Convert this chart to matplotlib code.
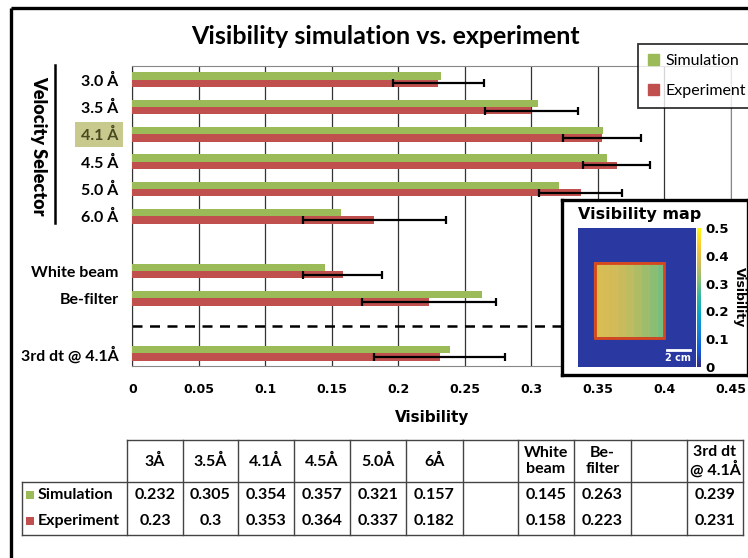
import numpy as np
import matplotlib
matplotlib.use('Agg')
import matplotlib.pyplot as plt
from matplotlib.colors import LinearSegmentedColormap
from matplotlib.patches import Rectangle, Patch

W, H = 748, 558

# bar chart data (top to bottom)
labels = ['3.0 Å', '3.5 Å', '4.1 Å', '4.5 Å', '5.0 Å', '6.0 Å', 'White beam', 'Be-filter', '3rd dt @ 4.1Å']
slots = [0, 1, 2, 3, 4, 5, 7, 8, 10]
simulation = [0.232, 0.305, 0.354, 0.357, 0.321, 0.157, 0.145, 0.263, 0.239]
experiment = [0.23, 0.3, 0.353, 0.364, 0.337, 0.182, 0.158, 0.223, 0.231]
exp_err = [0.034, 0.035, 0.029, 0.025, 0.031, 0.054, 0.03, 0.05, 0.049]
xticks = [0, 0.05, 0.1, 0.15, 0.2, 0.25, 0.3, 0.35, 0.4, 0.45]
xtick_labels = ['0', '0.05', '0.1', '0.15', '0.2', '0.25', '0.3', '0.35', '0.4', '0.45']

# table columns (blank columns are spacers)
table_heads = ['3Å', '3.5Å', '4.1Å', '4.5Å', '5.0Å', '6Å', '', 'White\nbeam', 'Be-\nfilter', '', '3rd dt\n@ 4.1Å']
table_index = [0, 1, 2, 3, 4, 5, None, 6, 7, None, 8]

# visibility map: background and column profile of the sample square
map_background = 0.02
square_profile = [0.385, 0.382, 0.376, 0.368, 0.358, 0.346, 0.332, 0.316, 0.3, 0.288]

GREEN = '#9bbb59'
RED = '#c0504d'
FONT = 'Lato'


def fx(px):
    return px / W


def fy(py):
    return 1 - py / H


fig = plt.figure(figsize=(W / 100, H / 100), dpi=100)

# overlay axes in pixel coords, behind everything
ov = fig.add_axes([0, 0, 1, 1], zorder=-1)
ov.set_xlim(0, W)
ov.set_ylim(H, 0)
ov.axis('off')

# outer frame
ov.plot([11, 11], [8, H], color='black', lw=2.4, solid_capstyle='butt')
ov.plot([11, W], [8, 8], color='black', lw=2.4, solid_capstyle='butt')

# main bar chart
ax = fig.add_axes([fx(132.3), fy(366), fx(731) - fx(132.3), fy(66) - fy(366)])
pos = np.array(slots, dtype=float)
bh = 0.27
ax.barh(pos - bh / 2, simulation, height=bh, color=GREEN, zorder=3)
ax.barh(pos + bh / 2, experiment, height=bh, color=RED, zorder=3)
ax.errorbar(experiment, pos + bh / 2, xerr=exp_err, fmt='none', ecolor='black',
            elinewidth=1.6, capsize=3, capthick=1.6, zorder=4)
ax.axhline(9, color='black', lw=1.8, ls=(0, (4, 3)), zorder=2)
ax.set_xlim(0, 0.45)
ax.set_ylim(10.47, -0.5)
ax.set_xticks(xticks)
ax.set_xticklabels(xtick_labels, fontsize=9, fontweight='bold', family='DejaVu Sans')
ax.set_yticks(slots)
ax.set_yticklabels(labels, fontsize=11.5, fontweight='bold', family=FONT)
ax.tick_params(length=0, pad=10)
ax.tick_params(axis='x', pad=12)
ax.grid(axis='x', color='#333333', lw=0.9, zorder=1)
for s in ['top', 'bottom', 'right']:
    ax.spines[s].set_color('#888888')
ax.spines['left'].set_color('#333333')
ax.set_xlabel('Visibility', fontsize=11, fontweight='bold', family='DejaVu Sans', labelpad=10)
for t in ax.get_yticklabels():
    if t.get_text() == '4.1 Å':
        t.set_color('#4a4a22')

fig.text(fx(385), fy(36), 'Visibility simulation vs. experiment', ha='center', va='center',
         fontsize=18, fontweight='bold', family=FONT)

# highlight behind 4.1 label, velocity selector bracket
ov.add_patch(Rectangle((75, 122), 48, 25, color='#c8c98c', lw=0))
ov.plot([55, 55], [65, 223], color='black', lw=1.8)
ov.text(39, 146, 'Velocity Selector', rotation=-90, ha='center', va='center',
        fontsize=13, fontweight='heavy', family=FONT)

# legend
handles = [Patch(color=GREEN, label='Simulation'), Patch(color=RED, label='Experiment')]
leg = fig.legend(handles=handles, loc='upper left', bbox_to_anchor=(fx(638), fy(44)),
                 frameon=True, fancybox=False, edgecolor='black', borderaxespad=0,
                 handlelength=0.7, handleheight=0.7, handletextpad=0.4,
                 labelspacing=1.0, borderpad=0.6, prop={'family': FONT, 'size': 11.5})
leg.get_frame().set_linewidth(1.3)
leg.set_zorder(10)

# inset: visibility map
box = fig.add_axes([fx(562), fy(375), fx(748) - fx(562), fy(200) - fy(375)], zorder=5)
box.set_xticks([])
box.set_yticks([])
for s in box.spines.values():
    s.set_linewidth(2.4)
box.text(16 / 186, 0.915, 'Visibility map', transform=box.transAxes,
         fontsize=11.5, fontweight='bold', family='DejaVu Sans', va='center')

parula = LinearSegmentedColormap.from_list('parula', [
    '#352a87', '#0f5cdd', '#1481d6', '#06a4ca', '#2eb7a4',
    '#87bf77', '#d1bb59', '#fec832', '#f9fb0e'])

img_w, img_h = 10.3, 12.1  # cm
nx, ny = 103, 121
vis = np.full((ny, nx), map_background)
sq_x0, sq_x1, sq_y0, sq_y1 = 1.46, 7.5, 2.53, 9.06
ix0, ix1 = int(sq_x0 * 10), int(sq_x1 * 10)
iy0, iy1 = int((img_h - sq_y1) * 10), int((img_h - sq_y0) * 10)
cols = np.repeat(square_profile, int(np.ceil((ix1 - ix0) / len(square_profile))))[:ix1 - ix0]
vis[iy0:iy1, ix0:ix1] = cols[None, :]

iax = fig.add_axes([fx(578), fy(367), fx(696) - fx(578), fy(228) - fy(367)], zorder=6)
im = iax.imshow(vis, cmap=parula, vmin=0, vmax=0.5, extent=(0, img_w, 0, img_h),
                aspect='auto', interpolation='bilinear')
iax.add_patch(Rectangle((sq_x0, sq_y0), sq_x1 - sq_x0, sq_y1 - sq_y0, fill=False,
                        edgecolor='#d8461c', lw=2))
iax.plot([7.74, 9.74], [1.48, 1.48], color='white', lw=2)
iax.text(8.74, 0.75, '2 cm', color='white', ha='center', va='center', fontsize=7,
         fontweight='bold', family='DejaVu Sans')
iax.set_xticks([])
iax.set_yticks([])
for s in iax.spines.values():
    s.set_visible(False)

cax = fig.add_axes([fx(697), fy(367), fx(701) - fx(697), fy(228) - fy(367)], zorder=6)
cb = fig.colorbar(im, cax=cax, ticks=[0, 0.1, 0.2, 0.3, 0.4, 0.5])
cb.outline.set_visible(False)
cb.ax.set_yticklabels(['0', '0.1', '0.2', '0.3', '0.4', '0.5'], fontsize=9.5,
                      fontweight='bold', family='DejaVu Sans')
cb.ax.tick_params(length=0, pad=3)
cb.set_label('Visibility', rotation=-90, fontsize=9, fontweight='bold',
             family='DejaVu Sans', labelpad=12)

# table
col_x = [22, 127, 183, 238, 294, 350, 406, 463, 518, 574, 631, 687, 743]
y_top, y_mid, y_bot = 440, 482, 535
lc = '#444444'
ov.plot([127, 743], [y_top, y_top], color=lc, lw=1)
ov.plot([22, 743], [y_mid, y_mid], color=lc, lw=1)
ov.plot([22, 743], [y_bot, y_bot], color=lc, lw=1)
for i, x in enumerate(col_x):
    y0 = y_mid if i == 0 else y_top
    ov.plot([x, x], [y0, y_bot], color=lc, lw=1)

tfs = 11.5
for j, head in enumerate(table_heads):
    cx = (col_x[j + 1] + col_x[j + 2]) / 2
    ov.text(cx, (y_top + y_mid) / 2, head, ha='center', va='center', fontsize=tfs,
            fontweight='bold', family=FONT, linespacing=1.1)
    k = table_index[j]
    if k is not None:
        ov.text(cx, 495, f'{simulation[k]:g}', ha='center', va='center', fontsize=tfs,
                fontweight='bold', family=FONT)
        ov.text(cx, 521, f'{experiment[k]:g}', ha='center', va='center', fontsize=tfs,
                fontweight='bold', family=FONT)

for yy, name, c in [(495, 'Simulation', GREEN), (521, 'Experiment', RED)]:
    ov.add_patch(Rectangle((26, yy - 4), 8, 8, color=c, lw=0))
    ov.text(38, yy, name, ha='left', va='center', fontsize=tfs, fontweight='bold', family=FONT)

fig.savefig('out.png', dpi=100)
